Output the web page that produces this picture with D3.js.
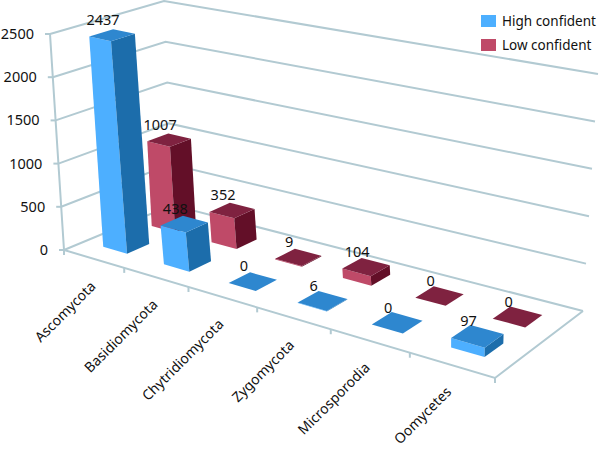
<!DOCTYPE html>
<html>
<head>
<meta charset="utf-8">
<script src="https://cdn.jsdelivr.net/npm/d3@7"></script>
<style>
  html, body { margin: 0; padding: 0; background: #fff; }
  text { font-family: "Noto Sans", sans-serif; fill: #111; }
</style>
</head>
<body>
<div id="canvas"></div>
<script>
const categories = ["Ascomycota", "Basidiomycota", "Chytridiomycota", "Zygomycota", "Microsporodia", "Oomycetes"];
const highConfident = [2437, 438, 0, 6, 0, 97];
const lowConfident = [1007, 352, 9, 104, 0, 0];
const yTicks = [0, 500, 1000, 1500, 2000, 2500];
const seriesNames = ["High confident", "Low confident"];

const width = 600;
const height = 456;

const colors = {
  "High confident": { front: "#4dafff", side: "#1c6dab", top: "#2e87cf" },
  "Low confident": { front: "#bf4a68", side: "#630f28", top: "#7f2240" }
};
const gridColor = "#b2cad2";

// corners of the floor and of the 2500 plane, in picture pixels: fl, fr, br, bl
const floorQuad = [[64, 250], [495, 378], [583, 311], [172, 205]];
const topQuad = [[50, 34], [505, 135], [598, 74], [164, 1]];

// unit square -> quad
function homography(q) {
  const [p0, p1, p2, p3] = q;
  const dx1 = p1[0] - p2[0], dx2 = p3[0] - p2[0], sx = p0[0] - p1[0] + p2[0] - p3[0];
  const dy1 = p1[1] - p2[1], dy2 = p3[1] - p2[1], sy = p0[1] - p1[1] + p2[1] - p3[1];
  const den = dx1 * dy2 - dx2 * dy1;
  const g = (sx * dy2 - dx2 * sy) / den;
  const h = (dx1 * sy - sx * dy1) / den;
  const a = p1[0] - p0[0] + g * p1[0], b = p3[0] - p0[0] + h * p3[0], c = p0[0];
  const d = p1[1] - p0[1] + g * p1[1], e = p3[1] - p0[1] + h * p3[1], f = p0[1];
  return (u, v) => {
    const w = g * u + h * v + 1;
    return [(a * u + b * v + c) / w, (d * u + e * v + f) / w];
  };
}
const floorAt = homography(floorQuad);
const topAt = homography(topQuad);

const x = d3.scaleBand().domain(categories).range([0, 1]).paddingInner(0.6).paddingOuter(0.32);
const depth = d3.scaleBand().domain(seriesNames).range([0, 1]).paddingInner(0.55).paddingOuter(0.4);
const y = d3.scaleLinear().domain([0, 2500]).range([0, 1]);

function project(u, v, value) {
  const a = floorAt(u, v), b = topAt(u, v), t = y(value);
  return [a[0] + (b[0] - a[0]) * t, a[1] + (b[1] - a[1]) * t];
}

const line = d3.line();
const poly = pts => line(pts) + "Z";

const svg = d3.select("#canvas").append("svg")
  .attr("width", width)
  .attr("height", height)
  .style("display", "block");

// walls
const grid = svg.append("g").attr("fill", "none").attr("stroke", gridColor).attr("stroke-width", 2);
yTicks.forEach(t => {
  grid.append("path").attr("d", line([project(0, 0, t), project(0, 1, t), project(1, 1, t)]));
});
grid.append("path").attr("d", line([project(0, 0, 2500), project(0, 0, 0), project(1, 0, 0), project(1, 1, 0)]));

// y axis ticks + labels
yTicks.forEach(t => {
  const p = project(0, 0, t);
  grid.append("path").attr("d", line([[p[0] - 5, p[1]], p]));
  svg.append("text")
    .attr("x", p[0] - 16)
    .attr("y", p[1] + 5)
    .attr("text-anchor", "end")
    .attr("font-size", 14.5)
    .text(t);
});

// x axis ticks + labels
d3.range(categories.length + 1).forEach(i => {
  const p = floorAt(i / categories.length, 0);
  grid.append("path").attr("d", line([p, [p[0], p[1] + 5]]));
});

categories.forEach(c => {
  const p = floorAt(x(c) + x.bandwidth() / 2, 0);
  svg.append("text")
    .attr("transform", `translate(${p[0] + 2},${p[1] + 28}) rotate(-45)`)
    .attr("text-anchor", "end")
    .attr("font-size", 14)
    .text(c);
});

// bars, back series first
const rows = [
  { name: "Low confident", values: lowConfident },
  { name: "High confident", values: highConfident }
];
const labels = [];

rows.forEach(row => {
  const g = svg.append("g");
  const col = colors[row.name];
  const v0 = depth(row.name);
  const v1 = v0 + depth.bandwidth();

  row.values.forEach((val, i) => {
    const u0 = x(categories[i]);
    const u1 = u0 + x.bandwidth();
    g.append("path").attr("fill", col.front)
      .attr("d", poly([project(u0, v0, 0), project(u1, v0, 0), project(u1, v0, val), project(u0, v0, val)]));
    g.append("path").attr("fill", col.side)
      .attr("d", poly([project(u1, v0, 0), project(u1, v1, 0), project(u1, v1, val), project(u1, v0, val)]));
    g.append("path").attr("fill", col.top)
      .attr("d", poly([project(u0, v0, val), project(u1, v0, val), project(u1, v1, val), project(u0, v1, val)]));
    const m = project((u0 + u1) / 2, (v0 + v1) / 2, val);
    labels.push({ x: m[0] - 9, y: m[1] - 10, text: val });
  });
});

labels.forEach(d => {
  svg.append("text")
    .attr("x", d.x)
    .attr("y", d.y)
    .attr("text-anchor", "middle")
    .attr("font-size", 14.5)
    .text(d.text);
});

// legend
const legend = svg.append("g").attr("transform", "translate(481,15)");
seriesNames.forEach((name, i) => {
  legend.append("rect")
    .attr("x", 0).attr("y", i * 24)
    .attr("width", 15).attr("height", 12)
    .attr("fill", colors[name].front);
  legend.append("text")
    .attr("x", 21).attr("y", i * 24 + 11)
    .attr("font-size", 13.5)
    .text(name);
});
</script>
</body>
</html>
